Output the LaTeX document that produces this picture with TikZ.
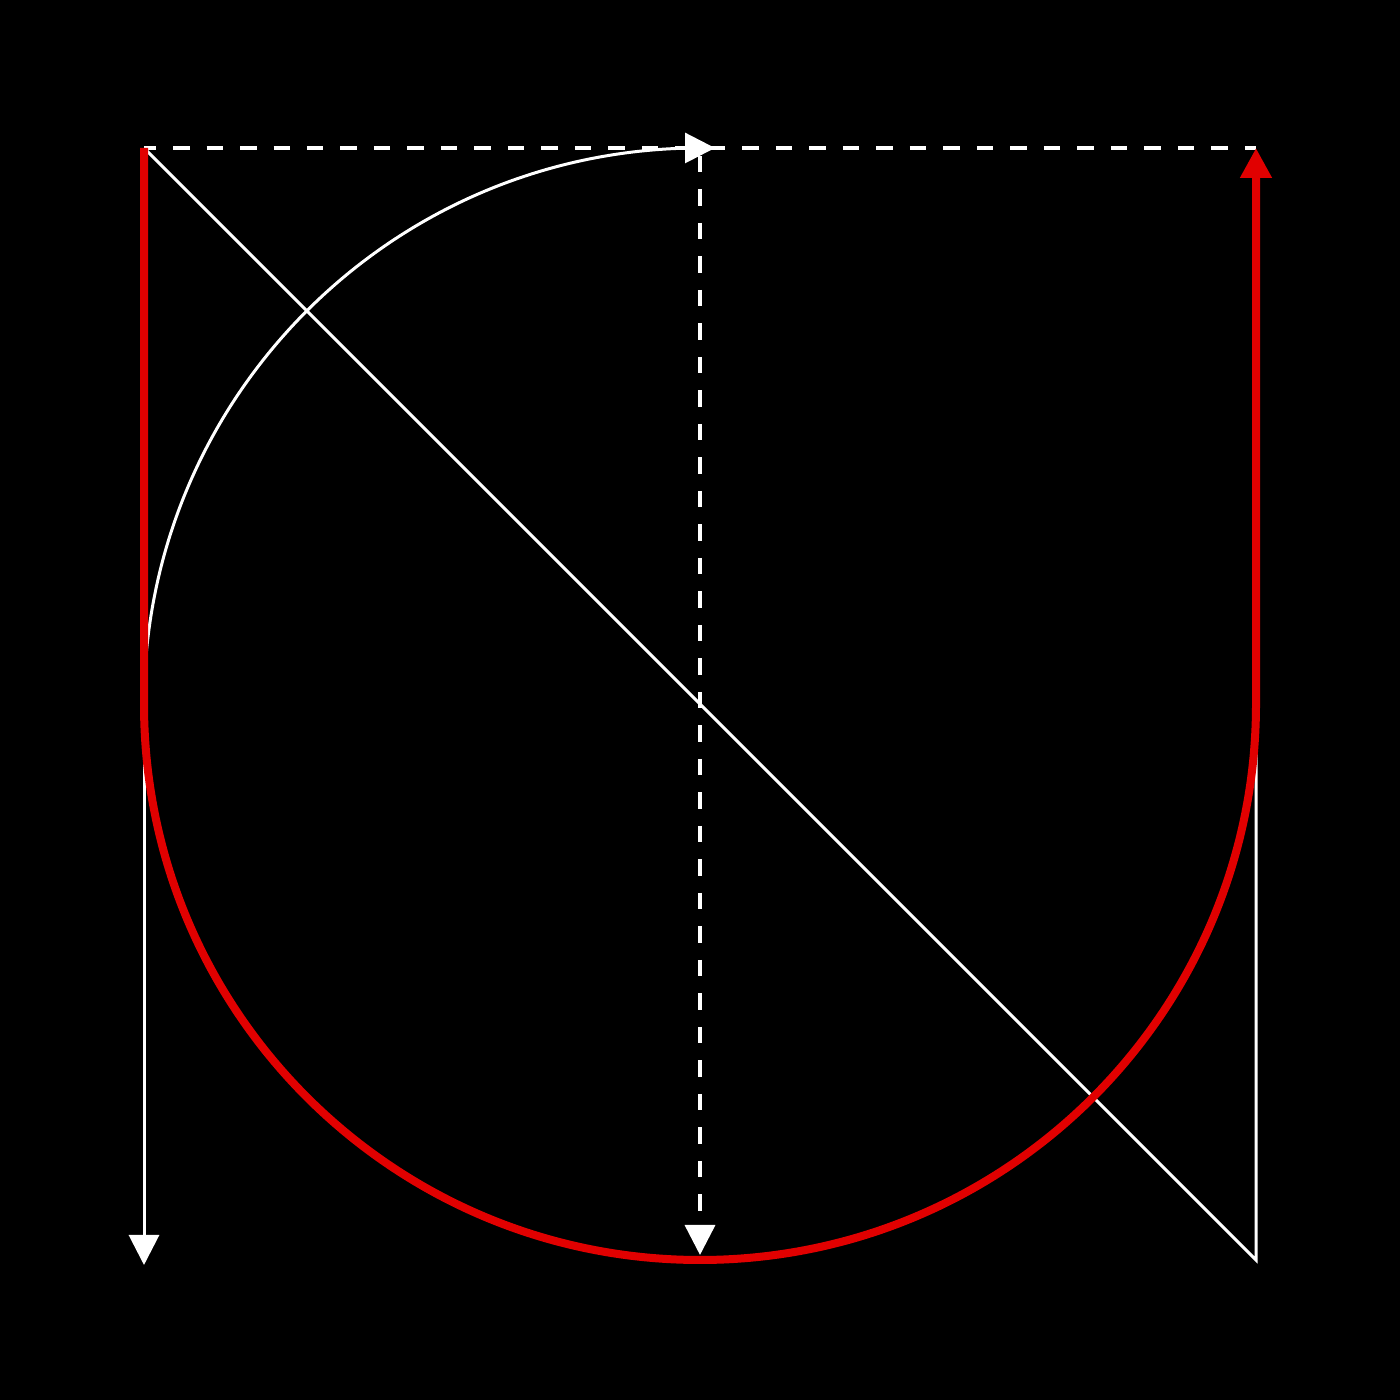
\documentclass[tikz,border=0pt]{standalone}
\usetikzlibrary{arrows.meta}

\begin{document}
\begin{tikzpicture}[
		redpath/.style={draw={rgb,255:red,225;green,0;blue,0}, line width=0.08cm},
		whiteline/.style={draw=white, line width=0.03cm},
		dashline/.style={whiteline, line width=0.035cm, dash pattern=on 0.165cm off 0.17cm},
		tip/.style={-{Triangle[length=0.3cm,width=0.3cm]}}]
		\fill [black] (0,0) rectangle (14,14);
		\coordinate (TL) at (1.44,12.52);
		\coordinate (TC) at (7.00,12.52);
		\coordinate (TR) at (12.56,12.52);
		\coordinate (ML) at (1.44,6.96);
		\coordinate (MR) at (12.56,6.96);
		\coordinate (arcend) at (7.15,12.52);
		\coordinate (BL) at (1.44,1.35);
		\coordinate (BC) at (7.00,1.45);
		\coordinate (BR) at (12.56,1.40);
		\draw [dashline, dash phase=0.045cm] (TL) -- (TR);
		\draw [dashline, dash phase=0.255cm, tip] (TC) -- (BC);
		\draw [whiteline] (TL) -- (BR) -- (MR);
		\draw [whiteline, tip] (ML) -- (BL);
		\draw [whiteline, tip] (ML) arc (180:90:5.56) -- (arcend);
		\draw [redpath, tip] (TL) -- (ML) arc (180:360:5.56) -- (TR);
	\end{tikzpicture}
\end{document}
